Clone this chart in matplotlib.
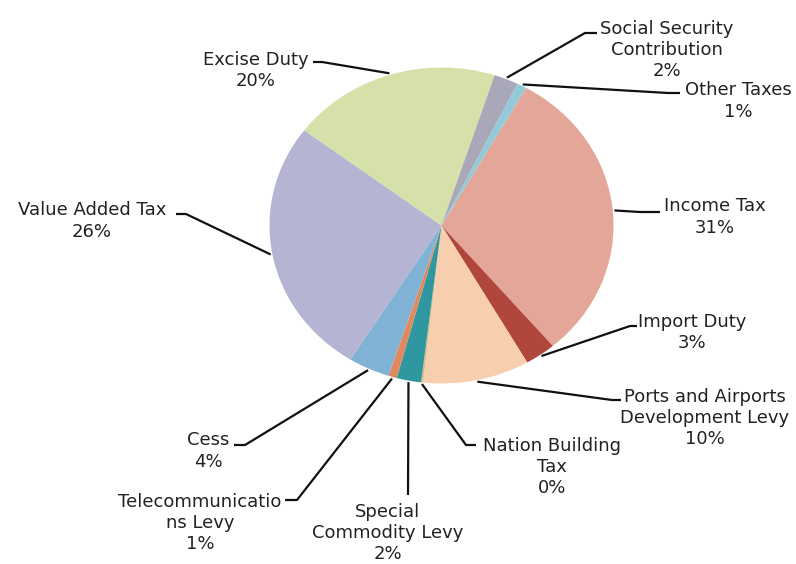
import matplotlib
matplotlib.use("Agg")
import matplotlib.pyplot as plt
import numpy as np

# ---- data ----
categories = ["Income Tax", "Import Duty", "Ports and Airports\nDevelopment Levy",
              "Nation Building\nTax", "Special\nCommodity Levy",
              "Telecommunicatio\nns Levy", "Cess", "Value Added Tax",
              "Excise Duty", "Social Security\nContribution", "Other Taxes"]
values = [30.6, 2.9, 10.0, 0.2, 2.3, 0.8, 3.9, 26.4, 19.7, 2.3, 0.9]
colors = ["#e3a698", "#b0463c", "#f8cfae", "#d9c08a", "#2f979f", "#e0895c",
          "#80b2d6", "#b5b4d3", "#d6e1aa", "#a8a8b9", "#93c9d8"]

# ---- layout (pixels) ----
W, H = 796, 564
CX, CY, RX, RY = 441.5, 225.5, 172.0, 158.0
text_pos = [(715, 217), (692, 332.5), (705, 418), (552, 467), (388, 533),
            (200, 523), (208, 451), (92, 221), (256, 70.5), (667, 50), (738, 101)]
elbows = [(640, 212), (630, 326), (612, 400), (466, 445), (408, 495),
          (297, 500), (245, 445), (186, 214), (322, 62), (585, 33), (668, 93)]
ends = [(660, 212), (637, 326), (621, 400), (476, 445), (408, 495),
        (285, 500), (234, 445), (176, 214), (313, 62), (597, 33), (680, 93)]


def px(x, y):
    return ((x - CX) / RX, (CY - y) / RY)


fig = plt.figure(figsize=(W / 100, H / 100), dpi=100)
ax = fig.add_axes([0, 0, 1, 1])
wedges, _ = ax.pie(values, colors=colors, startangle=60.5, counterclock=False,
                   radius=1.0, center=(0, 0),
                   wedgeprops=dict(linewidth=0))
ax.set_aspect("auto")
ax.set_xlim(px(0, 0)[0], px(W, 0)[0])
ax.set_ylim(px(0, H)[1], px(0, 0)[1])
ax.axis("off")

for i, w in enumerate(wedges):
    mid = np.deg2rad((w.theta1 + w.theta2) / 2)
    sx, sy = np.cos(mid) * 1.01, np.sin(mid) * 1.01
    ex, ey = px(*elbows[i])
    fx, fy = px(*ends[i])
    ax.plot([sx, ex, fx], [sy, ey, fy], color="#111111", lw=1.6,
            solid_capstyle="butt", zorder=3)
    tx, ty = px(*text_pos[i])
    ax.text(tx, ty, f"{categories[i]}\n{values[i]:.0f}%", ha="center", va="center",
            fontsize=13, color="#222222", family="DejaVu Sans",
            linespacing=1.22)

fig.savefig("out.png", dpi=100, facecolor="white")
